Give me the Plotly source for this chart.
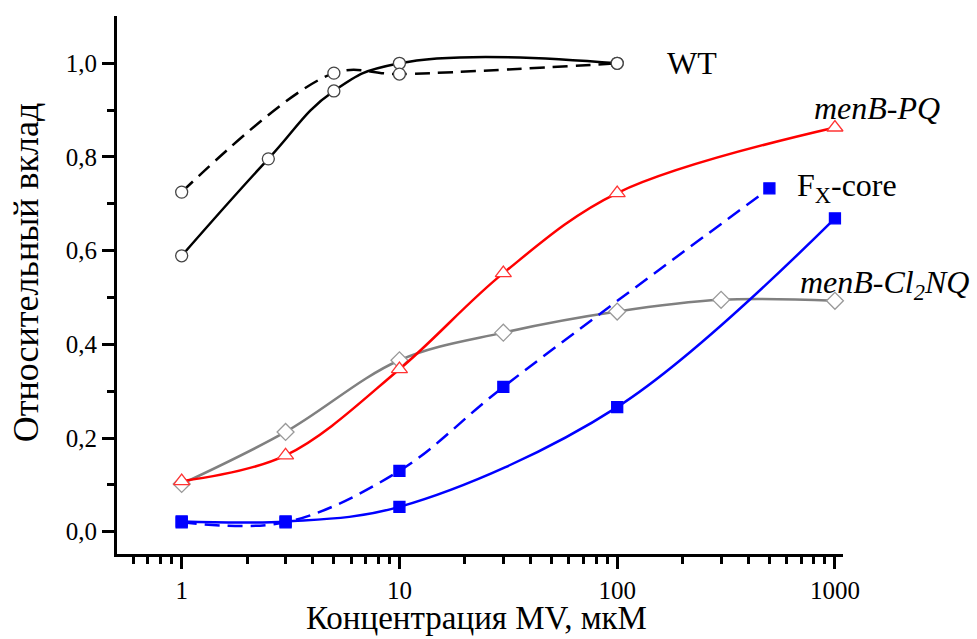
import plotly.graph_objects as go

# WT (solid)
wt1_x = [1, 2.5, 5, 10, 100]
wt1_y = [0.589, 0.796, 0.941, 1.0, 1.0]
# WT (dashed)
wt2_x = [1, 5, 10, 100]
wt2_y = [0.725, 0.979, 0.977, 1.0]
# menB-PQ
pq_x = [1, 3, 10, 30, 100, 1000]
pq_y = [0.108, 0.163, 0.347, 0.552, 0.723, 0.863]
# Fx-core (dashed)
fx1_x = [1, 3, 10, 30, 500]
fx1_y = [0.02, 0.02, 0.13, 0.309, 0.733]
# Fx-core (solid)
fx2_x = [1, 3, 10, 100, 1000]
fx2_y = [0.022, 0.022, 0.053, 0.266, 0.669]
# menB-Cl2NQ
cl_x = [1, 3, 10, 30, 100, 300, 1000]
cl_y = [0.102, 0.213, 0.366, 0.425, 0.47, 0.495, 0.493]

x_tickvals = [1, 10, 100, 1000]
x_ticktext = ["1", "10", "100", "1000"]
y_tickvals = [0.0, 0.2, 0.4, 0.6, 0.8, 1.0]
y_ticktext = ["0,0", "0,2", "0,4", "0,6", "0,8", "1,0"]
x_minor = [0.6, 0.7, 0.8, 0.9] + [m * d for d in (1, 10, 100) for m in range(2, 10)]
y_minor = [0.1, 0.3, 0.5, 0.7, 0.9]

label_x = [2.219, 2.894, 2.816, 2.829]          # log10 positions
label_y = [1.0, 0.905, 0.735, 0.527]
label_text = ["WT", "<i>menB-PQ</i>", "F<sub>X</sub>-core", "<i>menB-Cl<sub>2</sub>NQ</i>"]

x_title = "Концентрация MV, мкМ"
y_title = "Относительный вклад"

FONT = "Times New Roman, Liberation Serif, serif"

fig = go.Figure()

def add(x, y, color, symbol, size, dash="solid", fill="white", mline=None, sm=1.0):
    fig.add_trace(go.Scatter(
        x=x, y=y, mode="lines+markers",
        line=dict(color=color, width=2.5, dash=dash, shape="spline", smoothing=sm),
        marker=dict(symbol=symbol, size=size, color=fill,
                    line=dict(color=mline or color, width=1.3)),
        showlegend=False, cliponaxis=False))

add(wt1_x, wt1_y, "black", "circle", 12, fill="white", mline="#444", sm=1.25)
add(wt2_x, wt2_y, "black", "circle", 12, dash="15px,8px", fill="white", mline="#444")
add(cl_x, cl_y, "#808080", "diamond", 13, fill="white", mline="#999")
add(pq_x, pq_y, "#ff0000", "triangle-up", 14, fill="white", mline="#ff3333")
add(fx1_x, fx1_y, "#0000ff", "square", 11, dash="15px,8px", fill="#0000ff")
add(fx2_x, fx2_y, "#0000ff", "square", 11, fill="#0000ff")

for ax_, ay_, txt in zip(label_x, label_y, label_text):
    fig.add_annotation(x=ax_, y=ay_, xref="x", yref="y", text=txt,
                       showarrow=False, xanchor="left", yanchor="middle",
                       font=dict(family=FONT, size=32, color="black"))

# axis titles as paper-anchored text
fig.add_annotation(x=0.495, y=-0.119, xref="paper", yref="paper", text=x_title,
                   showarrow=False, xanchor="center", yanchor="middle",
                   font=dict(family=FONT, size=33, color="black"))
fig.add_annotation(x=-0.125, y=0.524, xref="paper", yref="paper", text=y_title,
                   showarrow=False, xanchor="center", yanchor="middle", textangle=-90,
                   font=dict(family=FONT, size=36, color="black"))

fig.update_layout(
    width=977, height=639,
    margin=dict(l=117, r=134, t=16, b=85),
    paper_bgcolor="white", plot_bgcolor="white",
    font=dict(family=FONT, size=25, color="black"),
)
fig.update_xaxes(
    type="log", range=[-0.297, 3.037], automargin=False,
    showline=True, linewidth=3, linecolor="black", mirror=False,
    showgrid=False, zeroline=False,
    ticks="outside", ticklen=12, tickwidth=2.5, tickcolor="black",
    tickmode="array", tickvals=x_tickvals, ticktext=x_ticktext,
    tickfont=dict(family=FONT, size=25),
    minor=dict(ticks="outside", ticklen=7, tickwidth=2.5, tickcolor="black",
               tickmode="array", tickvals=x_minor, showgrid=False),
)
fig.update_yaxes(
    range=[-0.0476, 1.101], automargin=False,
    showline=True, linewidth=3, linecolor="black", mirror=False,
    showgrid=False, zeroline=False,
    ticks="outside", ticklen=12, tickwidth=2.5, tickcolor="black",
    tickmode="array", tickvals=y_tickvals, ticktext=y_ticktext,
    tickfont=dict(family=FONT, size=25),
    minor=dict(ticks="outside", ticklen=7, tickwidth=2.5, tickcolor="black",
               tickmode="array", tickvals=y_minor, showgrid=False),
)

fig.write_html("out.html")
